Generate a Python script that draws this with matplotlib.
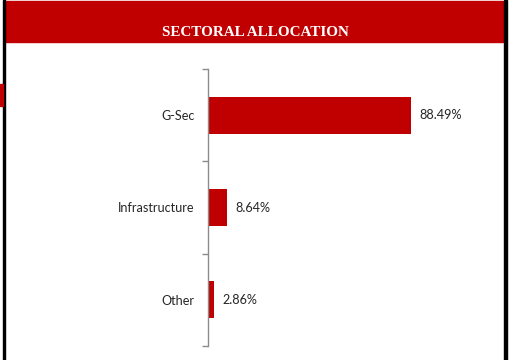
import matplotlib.pyplot as plt
from matplotlib.patches import Rectangle

categories = ["G-Sec", "Infrastructure", "Other"]
weights = [88.49, 8.64, 2.86]
title = "SECTORAL ALLOCATION"

RED = "#C00000"
W, H = 517, 360

fig = plt.figure(figsize=(W / 100, H / 100), dpi=100)


def px(x0, y0, w, h):
    # pixel box (from top-left) to figure fraction rect
    return (x0 / W, 1 - (y0 + h) / H, w / W, h / H)


# header band and page borders
x, y, w, h = px(4.7, 1, 498.6, 40.5)
fig.patches.append(Rectangle((x, y), w, h, transform=fig.transFigure,
                             color=RED, zorder=0))
x, y, w, h = px(3, 0, 1.8, H)
fig.patches.append(Rectangle((x, y), w, h, transform=fig.transFigure,
                             color="black", zorder=1))
x, y, w, h = px(504, 0, 2.7, H)
fig.patches.append(Rectangle((x, y), w, h, transform=fig.transFigure,
                             color="black", zorder=1))
x, y, w, h = px(0, 84, 3, 22)
fig.patches.append(Rectangle((x, y), w, h, transform=fig.transFigure,
                             color=RED, zorder=1))

fig.text(255 / W, 1 - 36.5 / H, title, ha="center", va="baseline",
         color="white", fontsize=10.9, fontweight="bold",
         family="Liberation Serif")

ax = fig.add_axes(px(207.5, 69, 230.5, 277))
pos = list(range(len(categories)))
ax.barh(pos, weights, height=0.40, color=RED, edgecolor="none")
ax.set_xlim(0, 100)
ax.set_ylim(len(categories) - 0.5, -0.5)

for p, v in zip(pos, weights):
    ax.annotate(f"{v:.2f}%", (v, p), xytext=(8, 0), textcoords="offset pixels",
                ha="left", va="center", fontsize=9.1, color="#262626",
                family="Lato")

# category ticks sit on the boundaries, labels in the middle
ax.set_yticks([p - 0.5 for p in pos] + [len(categories) - 0.5])
ax.set_yticklabels([])
ax.set_yticks(pos, minor=True)
ax.set_yticklabels(categories, minor=True, fontsize=9.1, color="#262626",
                   family="Lato")
ax.tick_params(axis="y", which="major", length=4, width=1, color="#8c8c8c")
ax.tick_params(axis="y", which="minor", length=0, pad=9.5)
ax.set_xticks([])

for s in ["top", "right", "bottom"]:
    ax.spines[s].set_visible(False)
ax.spines["left"].set_color("#8c8c8c")
ax.spines["left"].set_linewidth(1)

fig.savefig("out.png", dpi=100)
